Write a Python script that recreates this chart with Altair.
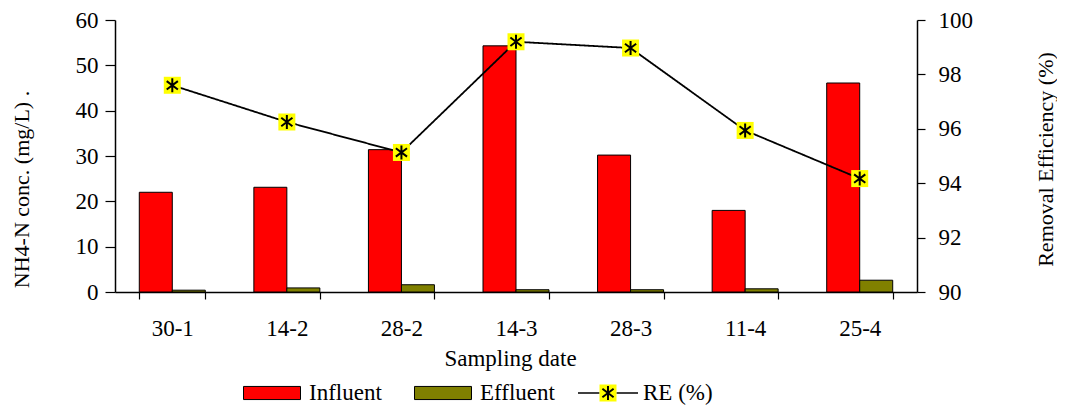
import altair as alt
import pandas as pd

# ---- data ----
dates = ["30-1", "14-2", "28-2", "14-3", "28-3", "11-4", "25-4"]
influent = [22.0, 23.1, 31.4, 54.3, 30.2, 18.0, 46.1]
effluent = [0.4, 0.9, 1.6, 0.5, 0.5, 0.7, 2.6]
removal = [97.6, 96.25, 95.13, 99.2, 98.97, 95.94, 94.17]
series = ["Influent", "Effluent"]
series_colors = ["#FF0000", "#808000"]
re_name = "RE (%)"
left_ticks = [0, 10, 20, 30, 40, 50, 60]
right_ticks = [90, 92, 94, 96, 98, 100]

bars_df = pd.DataFrame({
    "date": dates * 2,
    "series": [series[0]] * len(dates) + [series[1]] * len(dates),
    "value": influent + effluent,
})
re_df = pd.DataFrame({
    "date": dates,
    "re": removal,
    "re_line": [re_name] * len(dates),
    "re_fill": [re_name] * len(dates),
    "re_shape": [re_name] * len(dates),
})

FONT = "Liberation Serif"
FS = 23
RECT = "M-1,-0.23L1,-0.23L1,0.23L-1,0.23Z"
LINE_GAP = "M-1,0L-0.28,0M0.28,0L1,0"
ASTERISK = "M0,-1L0,1M-0.8,-0.6L0.8,0.6M-0.8,0.6L0.8,-0.6"
LEG_CY = 393  # legend row centre in page pixels

x_axis = alt.Axis(labelAngle=0, tickBand="extent", tickSize=7, labelPadding=18,
                  titleX=395, titleY=73, titleBaseline="alphabetic",
                  domainWidth=1.5, tickWidth=1.2, titleFontSize=23)
x_scale = alt.Scale(paddingInner=0.424, paddingOuter=0.212)
x_enc = alt.X("date:N", sort=dates, title="Sampling date", scale=x_scale, axis=x_axis)

right_axis = alt.Axis(orient="right", values=right_ticks, grid=False, tickSize=8,
                      labelPadding=13, domainWidth=1.5, tickWidth=1.2,
                      titleAngle=270, titleX=128, titleY=139, titleBaseline="middle",
                      titleAlign="center", titleFontSize=22)
y_right = alt.Y("re:Q", title="Removal Efficiency (%)",
                scale=alt.Scale(domain=[90, 100]), axis=right_axis)

# legend positions (relative to the plot origin at page x=115, y=20)
leg_rect_y = LEG_CY - 29 - 20
leg_line_y = LEG_CY - 31 - 20
leg_mark_y = LEG_CY - 11.5 - 20

bars = alt.Chart(bars_df).mark_bar(stroke="black", strokeWidth=1).encode(
    x=x_enc,
    xOffset=alt.XOffset("series:N", sort=series, scale=alt.Scale(domain=series)),
    y=alt.Y("value:Q", scale=alt.Scale(domain=[0, 60]),
            axis=alt.Axis(values=left_ticks, grid=False, tickSize=10, labelPadding=7,
                          domainWidth=1.5, tickWidth=1.2,
                          title="NH4-N conc. (mg/L) .", titleAngle=270,
                          titleX=-94, titleY=169, titleBaseline="middle",
                          titleAlign="center", titleFontSize=22)),
    color=alt.Color("series:N", sort=series,
                    scale=alt.Scale(domain=series, range=series_colors),
                    legend=alt.Legend(title=None, orient="none", legendX=128,
                                      legendY=leg_rect_y,
                                      direction="horizontal", symbolType=RECT,
                                      symbolSize=3249, symbolStrokeColor="black",
                                      symbolStrokeWidth=1, symbolOpacity=1,
                                      labelOffset=8, columnPadding=30, padding=0)),
)

line = alt.Chart(re_df).mark_line(color="black", strokeWidth=1.8).encode(
    x=x_enc,
    y=y_right,
    strokeDash=alt.StrokeDash("re_line:N", scale=alt.Scale(range=[[1, 0]]),
                              legend=alt.Legend(title=None, orient="none", legendX=462,
                                                legendY=leg_line_y, symbolType=LINE_GAP,
                                                symbolSize=3600, symbolStrokeColor="black",
                                                symbolStrokeWidth=1.5, labelOffset=4,
                                                padding=0)),
)

squares = alt.Chart(re_df).mark_square(size=289, opacity=1, strokeWidth=0).encode(
    x=x_enc,
    y=y_right,
    fill=alt.Fill("re_fill:N", scale=alt.Scale(range=["#FFFF00"]),
                  legend=alt.Legend(title=None, orient="none", legendX=481.5,
                                    legendY=leg_mark_y,
                                    symbolType="square", symbolSize=289,
                                    symbolStrokeWidth=0, symbolOpacity=1,
                                    labelExpr="''", labelOpacity=0, padding=0)),
)

stars = alt.Chart(re_df).mark_point(filled=False, size=196, strokeWidth=2,
                                    color="black", opacity=1).encode(
    x=x_enc,
    y=y_right,
    shape=alt.Shape("re_shape:N", scale=alt.Scale(range=[ASTERISK]),
                    legend=alt.Legend(title=None, orient="none", legendX=481.5,
                                      legendY=leg_mark_y,
                                      symbolSize=196, symbolStrokeColor="black",
                                      symbolStrokeWidth=2, symbolFillColor="transparent",
                                      symbolOpacity=1, labelExpr="''", labelOpacity=0,
                                      padding=0)),
)

re_layer = alt.layer(line, squares, stars)

chart = (
    alt.layer(bars, re_layer)
    .resolve_scale(y="independent")
    .properties(width=802, height=272,
                padding={"left": 107, "top": 12, "right": 140, "bottom": 114},
                autosize=alt.AutoSizeParams(type="none"))
    .configure_view(stroke=None)
    .configure_axis(labelFont=FONT, labelFontSize=FS, titleFont=FONT,
                    titleFontWeight="normal", labelColor="black", titleColor="black",
                    domainColor="black", tickColor="black")
    .configure_legend(labelFont=FONT, labelFontSize=FS, labelColor="black")
)

chart.save("out.html", embed_options={"renderer": "svg", "actions": False})
